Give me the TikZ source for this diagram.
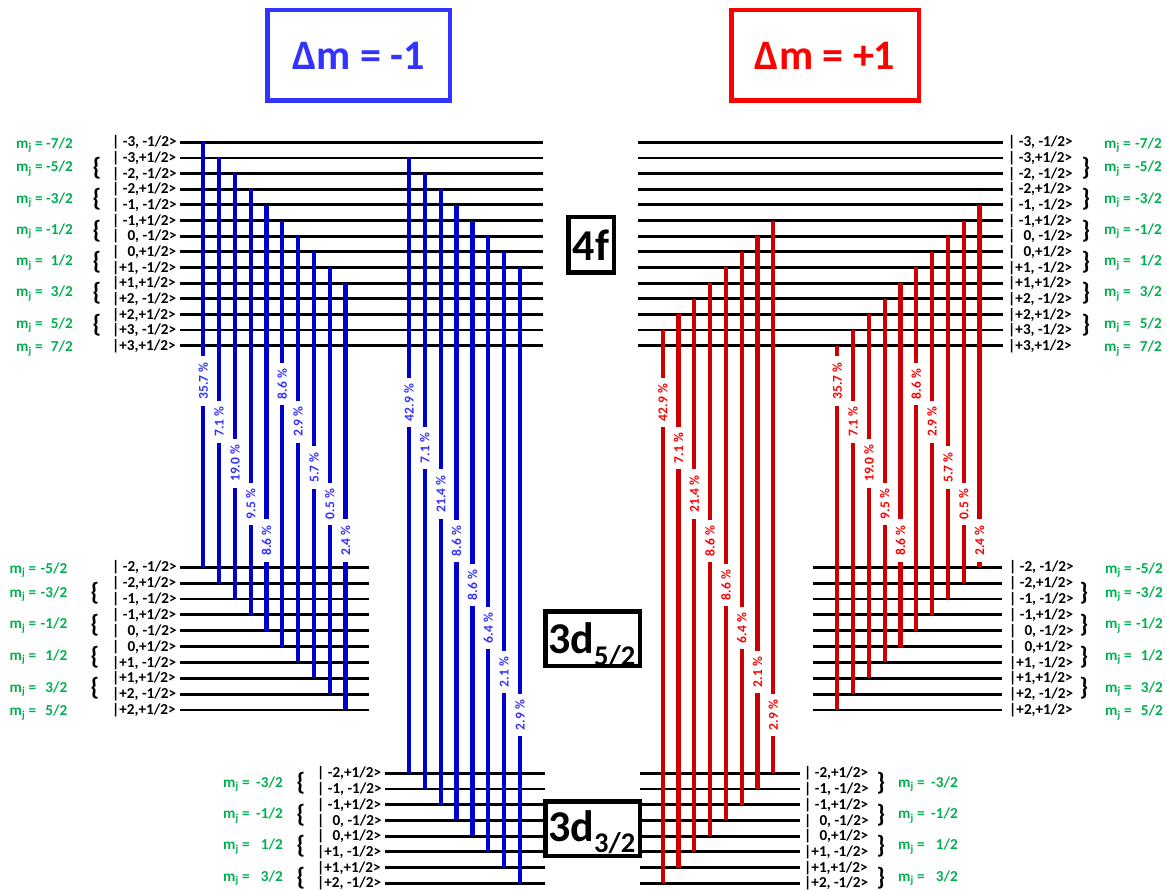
\documentclass[tikz,border=0pt]{standalone}
\usepackage{fontspec}
\setmainfont{Carlito}
\definecolor{blueline}{RGB}{0,0,204}
\definecolor{bluetext}{RGB}{51,51,255}
\definecolor{redline}{RGB}{204,0,0}
\definecolor{redtext}{RGB}{255,0,0}
\definecolor{mjgreen}{RGB}{0,176,80}
\def\fkets{0/{| -3, -1/2>},1/{| -3,+1/2>},2/{| -2, -1/2>},3/{| -2,+1/2>},4/{| -1, -1/2>},5/{| -1,+1/2>},6/{| \phantom{-}0, -1/2>},7/{| \phantom{-}0,+1/2>},8/{|+1, -1/2>},9/{|+1,+1/2>},10/{|+2, -1/2>},11/{|+2,+1/2>},12/{|+3, -1/2>},13/{|+3,+1/2>}}
\def\dfkets{0/{| -2, -1/2>},1/{| -2,+1/2>},2/{| -1, -1/2>},3/{| -1,+1/2>},4/{| \phantom{-}0, -1/2>},5/{| \phantom{-}0,+1/2>},6/{|+1, -1/2>},7/{|+1,+1/2>},8/{|+2, -1/2>},9/{|+2,+1/2>}}
\def\dtkets{0/{| -2,+1/2>},1/{| -1, -1/2>},2/{| -1,+1/2>},3/{| \phantom{-}0, -1/2>},4/{| \phantom{-}0,+1/2>},5/{|+1, -1/2>},6/{|+1,+1/2>},7/{|+2, -1/2>}}
\begin{document}
\begin{tikzpicture}[x=1pt,y=-1pt,
  lvl/.style={line width=2.8pt, draw=black},
  bline/.style={line width=4.2pt, draw=blueline},
  rline/.style={line width=4.2pt, draw=redline},
  pct/.style={fill=white, rotate=90, inner xsep=6pt, inner ysep=1.2pt, font=\bfseries\fontsize{13.5}{14}\selectfont},
  bpct/.style={pct, text=bluetext},
  rpct/.style={pct, text=redtext},
  ket/.style={font=\bfseries\fontsize{15.2}{16}\selectfont, inner sep=0pt, anchor=base west},
  brc/.style={font=\bfseries\fontsize{25}{26}\selectfont, inner sep=0pt},
  mj/.style={font=\bfseries\fontsize{15.2}{16}\selectfont, text=mjgreen, inner sep=0pt},
  ebox/.style={draw=black, line width=4.5pt, fill=white, inner sep=0pt},
  titlebox/.style={line width=4.5pt, inner sep=0pt, font=\bfseries\fontsize{42}{44}\selectfont},
  bigtxt/.style={anchor=base west, inner sep=0pt, font=\bfseries\fontsize{44}{44}\selectfont}
]
\useasboundingbox (0,0) rectangle (1167,890);

% ---------- title boxes
\node[titlebox, draw=bluetext, text=bluetext, minimum width=182.5pt, minimum height=90.5pt] (tleft) at (358.5,55.5) {Δm = -1};
\node[titlebox, draw=redtext, text=redtext, minimum width=187.5pt, minimum height=90.5pt] (tright) at (825,55.5) {Δm = +1};

% ---------- 4f levels
\foreach \i in {0,...,13}{
  \pgfmathsetmacro\yy{142.3+15.65*\i}
  \coordinate (fLa\i) at (180,\yy); \coordinate (fLb\i) at (543,\yy);
  \coordinate (fRa\i) at (638,\yy); \coordinate (fRb\i) at (1003,\yy);
  \draw[lvl] (fLa\i) -- (fLb\i);
  \draw[lvl] (fRa\i) -- (fRb\i);
}
\foreach \i/\t in \fkets{
  \pgfmathsetmacro\yy{142.3+15.65*\i+4.6}
  \node[ket] (kfL\i) at (112,\yy) {\t};
  \node[ket] (kfR\i) at (1008,\yy) {\t};
}
\foreach \r/\nm [count=\c] in {0/-7,1.5/-5,3.5/-3,5.5/-1,7.5/1,9.5/3,11.5/5,13/7}{
  \pgfmathsetmacro\yy{142.3+15.65*\r+6}
  \node[mj,anchor=base west] (mfLa\c) at (16,\yy) {m\textsubscript{j} =};
  \node[mj,anchor=base east] (mfLb\c) at (73,\yy) {\nm/2};
  \node[mj,anchor=base west] (mfRa\c) at (1104,\yy) {m\textsubscript{j} =};
  \node[mj,anchor=base east] (mfRb\c) at (1162,\yy) {\nm/2};
}
\foreach \r [count=\c] in {1.5,3.5,5.5,7.5,9.5,11.5}{
  \pgfmathsetmacro\yy{142.3+15.65*\r+2.5}
  \node[brc] (bfL\c) at (97,\yy) {\{};
  \node[brc] (bfR\c) at (1086,\yy) {\}};
}

% ---------- 3d5/2 levels
\foreach \i in {0,...,9}{
  \pgfmathsetmacro\yy{567.3+15.85*\i}
  \coordinate (dfLa\i) at (180,\yy); \coordinate (dfLb\i) at (369,\yy);
  \coordinate (dfRa\i) at (813,\yy); \coordinate (dfRb\i) at (1002,\yy);
  \draw[lvl] (dfLa\i) -- (dfLb\i);
  \draw[lvl] (dfRa\i) -- (dfRb\i);
}
\foreach \i/\t in \dfkets{
  \pgfmathsetmacro\yy{567.3+15.85*\i+4.6}
  \node[ket] (kdfL\i) at (112,\yy) {\t};
  \node[ket] (kdfR\i) at (1009,\yy) {\t};
}
\foreach \r/\nm [count=\c] in {0/-5,1.5/-3,3.5/-1,5.5/1,7.5/3,9/5}{
  \pgfmathsetmacro\yy{567.3+15.85*\r+6}
  \node[mj,anchor=base west] (mdfLa\c) at (9.5,\yy) {m\textsubscript{j} =};
  \node[mj,anchor=base east] (mdfLb\c) at (67.5,\yy) {\nm/2};
  \node[mj,anchor=base west] (mdfRa\c) at (1105,\yy) {m\textsubscript{j} =};
  \node[mj,anchor=base east] (mdfRb\c) at (1163,\yy) {\nm/2};
}
\foreach \r [count=\c] in {1.5,3.5,5.5,7.5}{
  \pgfmathsetmacro\yy{567.3+15.85*\r+2.5}
  \node[brc] (bdfL\c) at (95,\yy) {\{};
  \node[brc] (bdfR\c) at (1084,\yy) {\}};
}

% ---------- 3d3/2 levels
\foreach \i in {0,...,7}{
  \pgfmathsetmacro\yy{773.3+15.7*\i}
  \coordinate (dtLa\i) at (385,\yy); \coordinate (dtLb\i) at (545,\yy);
  \coordinate (dtRa\i) at (640,\yy); \coordinate (dtRb\i) at (800,\yy);
  \draw[lvl] (dtLa\i) -- (dtLb\i);
  \draw[lvl] (dtRa\i) -- (dtRb\i);
}
\foreach \i/\t in \dtkets{
  \pgfmathsetmacro\yy{773.3+15.7*\i+4.6}
  \node[ket] (kdtL\i) at (317,\yy) {\t};
  \node[ket] (kdtR\i) at (804,\yy) {\t};
}
\foreach \r/\nm [count=\c] in {0.5/-3,2.5/-1,4.5/1,6.5/3}{
  \pgfmathsetmacro\yy{773.3+15.7*\r+6}
  \node[mj,anchor=base west] (mdtLa\c) at (223,\yy) {m\textsubscript{j} =};
  \node[mj,anchor=base east] (mdtLb\c) at (283,\yy) {\nm/2};
  \node[mj,anchor=base west] (mdtRa\c) at (898,\yy) {m\textsubscript{j} =};
  \node[mj,anchor=base east] (mdtRb\c) at (958,\yy) {\nm/2};
}
\foreach \r [count=\c] in {0.5,2.5,4.5,6.5}{
  \pgfmathsetmacro\yy{773.3+15.7*\r+2.5}
  \node[brc] (bdtL\c) at (301,\yy) {\{};
  \node[brc] (bdtR\c) at (881,\yy) {\}};
}

% ---------- transitions: blue, 4f -> 3d5/2
\foreach \k/\pv/\ly in {0/35.7/381,1/7.1/421.7,2/19.0/463.3,3/9.5/504,4/8.6/540.5,5/8.6/384,6/2.9/421.7,7/5.7/467.5,8/0.5/504,9/2.4/540.5}{
  \pgfmathsetmacro\xx{203.3+15.8*\k}
  \pgfmathsetmacro\yt{142.3+15.65*\k}
  \pgfmathsetmacro\yb{567.3+15.85*\k}
  \coordinate (bAt\k) at (\xx,\yt);
  \coordinate (bAb\k) at (\xx,\yb);
  \draw[bline] (bAt\k) -- (bAb\k);
  \node[bpct] (bAl\k) at (\xx,\ly) {\pv\ \%};
}
% ---------- transitions: blue, 4f -> 3d3/2
\foreach \j/\pv/\ly in {0/42.9/402.5,1/7.1/448,2/21.4/494,3/8.6/541,4/8.6/585,5/6.4/628,6/2.1/672,7/2.9/715}{
  \pgfmathsetmacro\xx{409+15.85*\j}
  \pgfmathsetmacro\yt{142.3+15.65*(\j+1)}
  \pgfmathsetmacro\yb{773.3+15.7*\j}
  \coordinate (bBt\j) at (\xx,\yt);
  \coordinate (bBb\j) at (\xx,\yb);
  \draw[bline] (bBt\j) -- (bBb\j);
  \node[bpct] (bBl\j) at (\xx,\ly) {\pv\ \%};
}
% ---------- transitions: red, 4f -> 3d3/2
\foreach \j/\pv/\ly in {0/42.9/402.5,1/7.1/448,2/21.4/494,3/8.6/541,4/8.6/585,5/6.4/628,6/2.1/672,7/2.9/715}{
  \pgfmathsetmacro\xx{662.7+15.8*\j}
  \pgfmathsetmacro\yt{142.3+15.65*(12-\j)}
  \pgfmathsetmacro\yb{773.3+15.7*(7-\j)}
  \coordinate (rBt\j) at (\xx,\yt);
  \coordinate (rBb\j) at (\xx,\yb);
  \draw[rline] (rBt\j) -- (rBb\j);
  \node[rpct] (rBl\j) at (\xx,\ly) {\pv\ \%};
}
% ---------- transitions: red, 4f -> 3d5/2
\foreach \k/\pv/\ly in {0/35.7/381,1/7.1/421.7,2/19.0/463.3,3/9.5/504,4/8.6/540.5,5/8.6/384,6/2.9/421.7,7/5.7/467.5,8/0.5/504,9/2.4/540.5}{
  \pgfmathsetmacro\xx{837.3+15.8*\k}
  \pgfmathsetmacro\yt{142.3+15.65*(13-\k)}
  \pgfmathsetmacro\yb{567.3+15.85*(9-\k)}
  \coordinate (rAt\k) at (\xx,\yt);
  \coordinate (rAb\k) at (\xx,\yb);
  \draw[rline] (rAt\k) -- (rAb\k);
  \node[rpct] (rAl\k) at (\xx,\ly) {\pv\ \%};
}

% ---------- level boxes
\node[ebox, minimum width=45.5pt, minimum height=55.5pt, font=\bfseries\fontsize{44}{44}\selectfont] (fbox) at (591,245) {4f};
\node[ebox, minimum width=94.5pt, minimum height=54.5pt] (dfbox) at (592.5,638.5) {};
\node[bigtxt] (dftxt) at (548,653.3) {3d\raisebox{-12pt}{\fontsize{28.5}{29}\selectfont 5/2}};
\node[ebox, minimum width=94.5pt, minimum height=54.5pt] (dtbox) at (592.5,828.5) {};
\node[bigtxt] (dttxt) at (548,841.7) {3d\raisebox{-11pt}{\fontsize{28.5}{29}\selectfont 3/2}};
\end{tikzpicture}
\end{document}
